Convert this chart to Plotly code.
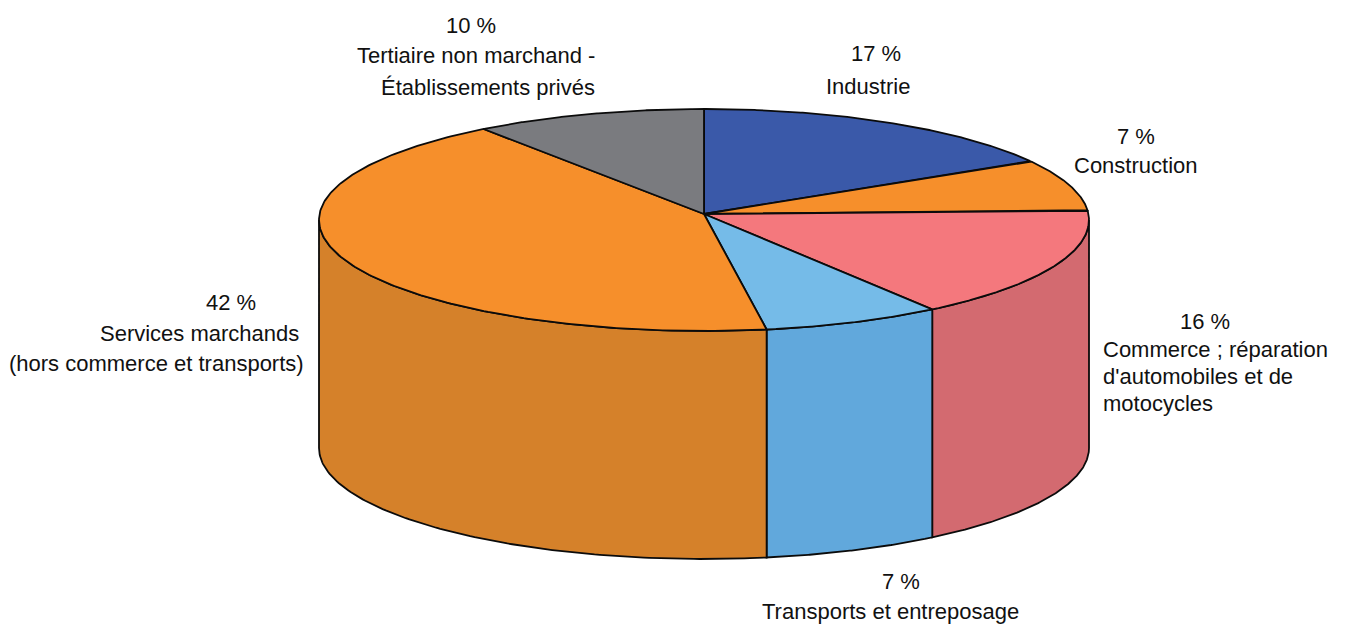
import numpy as np
import plotly.graph_objects as go

# Sector names and the percentages printed on the chart
categories = ["Industrie", "Construction",
              "Commerce ; réparation d'automobiles et de motocycles",
              "Transports et entreposage",
              "Services marchands (hors commerce et transports)",
              "Tertiaire non marchand - Établissements privés"]
printed_pct = [17, 7, 16, 7, 42, 10]
drawn_pct = [16.1, 7.5, 16.3, 7.5, 42.9, 9.7]
top_colors = ["#3A59A9", "#F68F2B", "#F4787D", "#75BBE8", "#F68F2B", "#7A7B7F"]
side_colors = ["#3A59A9", "#D5812A", "#D36A70", "#61A8DC", "#D5812A", "#7A7B7F"]

# Label lines: text, x centre, y centre
label_lines = [
    (f"{printed_pct[5]} %", 470.5, 25),
    ("Tertiaire non marchand -", 476, 55),
    ("Établissements privés", 487.5, 87),
    (f"{printed_pct[0]} %", 876, 53),
    ("Industrie", 868, 86),
    (f"{printed_pct[1]} %", 1136, 136),
    ("Construction", 1136, 165),
    (f"{printed_pct[4]} %", 231, 302),
    ("Services marchands", 199, 333),
    ("(hors commerce et transports)", 156, 363),
    (f"{printed_pct[2]} %", 1204.5, 321),
    ("Commerce ; réparation", 1215, 349),
    ("d'automobiles et de", 1198, 376),
    ("motocycles", 1158, 403),
    (f"{printed_pct[3]} %", 901, 581),
    ("Transports et entreposage", 890, 611),
]

# Projection of the cylinder
CX, CY, RX, RY, DEPTH = 704, 220, 385, 111, 228
APEX = (704, 214)
PAGE_MARGIN = 8  # the page's body margin shifts the figure


def rim(deg):
    t = np.radians(deg)
    return CX + RX * np.sin(t), CY - RY * np.cos(t)


fig = go.Figure()
edges = np.concatenate([[0], np.cumsum(drawn_pct)]) / sum(drawn_pct) * 360
LINE = dict(color="#0B0B0B", width=1.8)

# Visible wall: only the front half of the rim (90 to 270 degrees)
for i in range(len(drawn_pct)):
    a, b = max(edges[i], 90), min(edges[i + 1], 270)
    if a >= b:
        continue
    deg = np.linspace(a, b, 120)
    x, y = rim(deg)
    fig.add_trace(go.Scatter(
        x=np.concatenate([x, x[::-1], x[:1]]),
        y=np.concatenate([y, y[::-1] + DEPTH, y[:1]]),
        mode="lines", fill="toself", fillcolor=side_colors[i], line=LINE,
        hoverinfo="skip", showlegend=False))

# Top face
for i in range(len(drawn_pct)):
    deg = np.linspace(edges[i], edges[i + 1], 200)
    x, y = rim(deg)
    fig.add_trace(go.Scatter(
        x=np.concatenate([[APEX[0]], x, [APEX[0]]]),
        y=np.concatenate([[APEX[1]], y, [APEX[1]]]),
        mode="lines", fill="toself", fillcolor=top_colors[i], line=LINE,
        name=categories[i], hoverinfo="name", showlegend=False))

for text, x, y in label_lines:
    fig.add_annotation(x=x, y=y, text=text, showarrow=False, xanchor="center",
                       yanchor="middle", font=dict(family="Liberation Sans", size=22, color="#111111"))

fig.update_layout(
    width=1346, height=626, margin=dict(l=0, r=0, t=0, b=0),
    paper_bgcolor="white", plot_bgcolor="white",
    xaxis=dict(range=[PAGE_MARGIN, 1346 + PAGE_MARGIN], visible=False, fixedrange=True),
    yaxis=dict(range=[626 + PAGE_MARGIN, PAGE_MARGIN], visible=False, fixedrange=True),
)
fig.write_html("out.html", config={"displayModeBar": False})
